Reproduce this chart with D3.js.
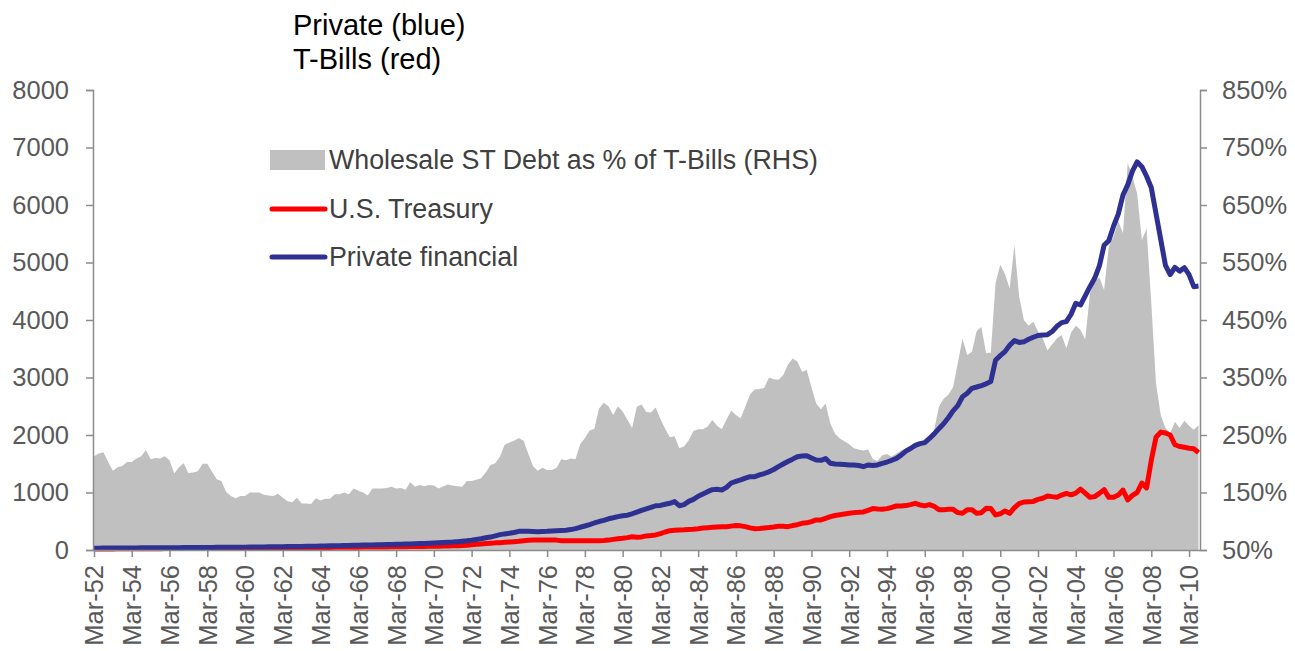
<!DOCTYPE html>
<html>
<head>
<meta charset="utf-8">
<script src="https://cdn.jsdelivr.net/npm/d3@7"></script>
<style>
    body { margin: 0; background: #fff; }
    #chart { width: 1295px; height: 651px; }
    text { font-family: Arial, "Liberation Sans", sans-serif; }
</style>
</head>
<body>
<div id="chart"></div>
<script>
// quarterly data, Mar-52 .. Sep-10 (one row per year)
const startYear = 1952;
const monthNames = ["Mar", "Jun", "Sep", "Dec"];

// Wholesale ST debt as % of T-Bills (RHS)
const wholesalePct = [
    213,218,220,203, 188,194,196,203, 203,209,213,224, 208,210,209,213,
    206,183,194,201, 184,185,187,200, 200,186,173,170, 151,144,140,144,
    144,150,150,150, 146,145,144,148, 141,135,133,141, 131,131,130,140,
    136,139,139,147, 147,150,147,157, 153,150,145,157, 157,157,158,160,
    157,158,155,168, 160,163,161,163, 162,157,161,164, 162,161,160,170,
    170,172,175,185, 198,201,212,233, 237,240,245,240, 218,196,188,193,
    189,189,193,208, 206,209,208,234, 245,258,261,296, 306,300,285,300,
    291,277,262,299, 303,290,289,298, 278,261,246,248, 227,230,241,257,
    260,260,265,276, 266,260,277,292, 285,279,300,321, 329,330,332,350,
    347,346,354,372, 383,378,360,363, 333,305,295,305, 270,252,244,239,
    234,227,225,223, 225,208,205,215, 217,212,218,223, 227,231,236,237,
    239,246,259,299, 313,320,333,375, 418,389,395,431, 438,392,393,514,
    546,530,505,580, 491,450,440,447, 430,418,397,408, 418,424,401,428,
    440,433,416,496, 517,524,502,578, 595,622,601,723, 699,670,589,609,
    479,340,285,262, 253,273,262,275, 266,259,267
];

// Private financial ($bn, LHS)
const privateFinancial = [
    32,32,33,33, 34,34,35,35, 36,36,37,37, 38,39,39,40,
    40,41,41,42, 42,43,43,44, 44,45,46,46, 47,48,48,49,
    50,51,52,53, 54,55,56,57, 58,59,60,62, 63,64,66,67,
    69,70,72,73, 75,77,79,81, 83,85,87,89, 91,93,95,97,
    99,101,104,106, 109,112,115,118, 121,125,129,133, 138,145,152,160,
    170,182,195,212, 225,245,267,280, 290,305,325,325, 325,322,319,322,
    325,330,336,340, 345,355,371,395, 417,440,470,495, 515,543,560,580,
    595,605,630,660, 690,715,740,770, 775,795,812,841, 770,790,845,881,
    935,975,1015,1050, 1055,1043,1090,1165, 1195,1220,1250,1275, 1275,1305,1330,1360,
    1400,1450,1496,1540, 1580,1623,1635,1641, 1600,1565,1560,1590, 1510,1495,1490,1485,
    1478,1478,1470,1449, 1478,1470,1480,1505, 1530,1560,1594,1650, 1720,1765,1820,1850,
    1867,1940,2020,2110, 2195,2300,2420,2510, 2665,2725,2812,2835, 2860,2890,2930,3300,
    3380,3450,3560,3641, 3610,3620,3664,3700, 3730,3739,3745,3800, 3890,3954,3971,4100,
    4290,4261,4420,4580, 4725,4940,5300,5380, 5630,5840,6174,6350, 6590,6750,6667,6500,
    6300,5850,5400,4950, 4790,4916,4850,4910, 4790,4580,4590
];

// U.S. Treasury bills ($bn, LHS)
const usTreasury = [
    17,18,18,19, 19,20,20,21, 21,21,22,22, 22,23,23,24,
    24,25,25,26, 26,27,27,28, 29,29,30,31, 31,32,33,33,
    34,34,35,35, 36,36,37,38, 38,39,40,40, 41,42,42,43,
    44,44,45,46, 46,47,48,48, 49,50,51,51, 52,53,54,55,
    56,57,58,59, 60,62,63,64, 66,67,69,71, 73,75,78,82,
    90,100,106,113, 118,124,128,134, 139,145,151,160, 170,174,174,174,
    174,174,172,160, 160,162,162,162, 162,162,162,162, 165,172,185,197,
    205,215,230,222, 228,245,252,262, 285,313,336,342, 348,352,358,360,
    370,383,388,394, 400,406,406,415, 425,420,406,385, 371,375,383,390,
    400,415,412,406, 425,440,464,472, 495,522,522,550, 580,600,612,625,
    638,650,655,662, 690,720,712,708, 720,740,765,765, 772,790,812,783,
    768,790,760,700, 702,707,707,650, 640,700,700,638, 649,725,720,610,
    630,680,638,735, 805,835,840,845, 880,900,940,928, 918,955,984,960,
    990,1060,990,916, 928,985,1050,916, 916,955,1043,870, 950,1000,1165,1080,
    1560,1960,2050,2035, 2000,1830,1800,1786, 1770,1760,1693
];

const leftTicks = [0, 1000, 2000, 3000, 4000, 5000, 6000, 7000, 8000];
const rightTicks = [50, 150, 250, 350, 450, 550, 650, 750, 850];
const titleLines = ["Private (blue)", "T-Bills (red)"];
const legendLabels = ["Wholesale ST Debt as % of T-Bills (RHS)", "U.S. Treasury", "Private financial"];

const quarters = wholesalePct.map((d, i) => {
    let yr = startYear + Math.floor(i / 4);
    return monthNames[i % 4] + "-" + String(yr % 100).padStart(2, "0");
});


class DebtChart {

    constructor(parentElement) {
        this.parentElement = parentElement;
        this.initVis();
    }

    initVis() {
        let vis = this;

        vis.margin = {top: 90, right: 95, bottom: 101, left: 93};
        vis.width = 1295 - vis.margin.left - vis.margin.right;
        vis.height = 651 - vis.margin.top - vis.margin.bottom;

        vis.root = d3.select("#" + vis.parentElement).append("svg")
            .attr("width", 1295)
            .attr("height", 651);

        vis.svg = vis.root.append("g")
            .attr("transform", "translate(" + vis.margin.left + "," + vis.margin.top + ")");

        // scales
        vis.x = d3.scalePoint()
            .domain(quarters)
            .range([1, vis.width - 1.5]);

        vis.yLeft = d3.scaleLinear()
            .domain([0, 8000])
            .range([vis.height, 0]);

        vis.yRight = d3.scaleLinear()
            .domain([50, 850])
            .range([vis.height, 0]);

        vis.updateVis();
    }

    updateVis() {
        let vis = this;

        // grey area on the right axis
        let area = d3.area()
            .x((d, i) => vis.x(quarters[i]))
            .y0(vis.yRight(50))
            .y1(d => vis.yRight(d));

        vis.svg.append("path")
            .datum(wholesalePct)
            .attr("d", area)
            .attr("fill", "#c0c0c0");

        let line = d3.line()
            .x((d, i) => vis.x(quarters[i]))
            .y(d => vis.yLeft(d));

        vis.svg.append("path")
            .datum(usTreasury)
            .attr("d", line)
            .attr("fill", "none")
            .attr("stroke", "#ff0000")
            .attr("stroke-width", 5)
            .attr("stroke-linejoin", "round");

        vis.svg.append("path")
            .datum(privateFinancial)
            .attr("d", line)
            .attr("fill", "none")
            .attr("stroke", "#2e3192")
            .attr("stroke-width", 5)
            .attr("stroke-linejoin", "round");

        // axes
        vis.svg.append("g")
            .attr("class", "axis")
            .call(d3.axisLeft(vis.yLeft).tickValues(leftTicks).tickSize(7).tickPadding(17).tickFormat(d3.format("d")));

        vis.svg.append("g")
            .attr("class", "axis")
            .attr("transform", "translate(" + vis.width + ",0)")
            .call(d3.axisRight(vis.yRight).tickValues(rightTicks).tickSize(7).tickPadding(15).tickFormat(d => d + "%"));

        let bottomAxis = vis.svg.append("g")
            .attr("class", "axis")
            .attr("transform", "translate(0," + vis.height + ")")
            .call(d3.axisBottom(vis.x)
                .tickValues(quarters.filter((d, i) => i % 8 === 0))
                .tickSize(7)
                .tickSizeOuter(0));

        bottomAxis.select(".domain").attr("d", "M0,0.5H" + vis.width);

        bottomAxis.selectAll("text")
            .attr("transform", "rotate(-90)")
            .attr("x", -15)
            .attr("y", 0)
            .attr("dy", "0.35em")
            .style("text-anchor", "end");

        vis.svg.selectAll(".axis .domain").attr("stroke", "#8c8c8c").attr("stroke-width", 1.5);
        vis.svg.selectAll(".axis line").attr("stroke", "#8c8c8c").attr("stroke-width", 1.5);
        vis.svg.selectAll(".axis text")
            .attr("fill", "#595959")
            .style("font-size", "25.5px")
            .style("font-family", "Arial, 'Liberation Sans', sans-serif");

        // title
        vis.root.selectAll(".title")
            .data(titleLines)
            .enter()
            .append("text")
            .attr("class", "title")
            .attr("x", 293)
            .attr("y", (d, i) => 35 + i * 34)
            .attr("fill", "#000")
            .style("font-size", "29px")
            .text(d => d);

        // legend
        let legend = vis.root.append("g").attr("class", "legend");

        legend.append("rect")
            .attr("x", 270).attr("y", 150)
            .attr("width", 55).attr("height", 20)
            .attr("fill", "#c0c0c0");

        legend.append("line")
            .attr("x1", 272).attr("x2", 325)
            .attr("y1", 209).attr("y2", 209)
            .attr("stroke", "#ff0000").attr("stroke-width", 5).attr("stroke-linecap", "round");

        legend.append("line")
            .attr("x1", 272).attr("x2", 325)
            .attr("y1", 257).attr("y2", 257)
            .attr("stroke", "#2e3192").attr("stroke-width", 5).attr("stroke-linecap", "round");

        legend.selectAll(".legend-label")
            .data(legendLabels)
            .enter()
            .append("text")
            .attr("class", "legend-label")
            .attr("x", 329)
            .attr("y", (d, i) => [160, 209, 257][i])
            .attr("dy", "0.35em")
            .attr("fill", "#404040")
            .style("font-size", "26.8px")
            .text(d => d);
    }
}

new DebtChart("chart");
</script>
</body>
</html>
